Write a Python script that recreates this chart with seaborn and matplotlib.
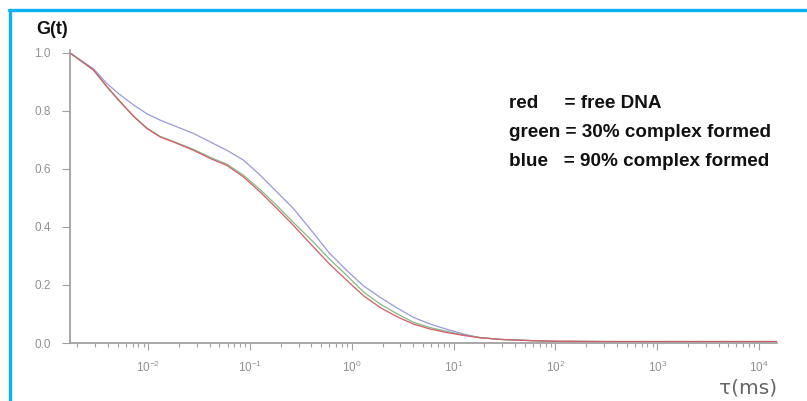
import numpy as np
import pandas as pd
import matplotlib
matplotlib.use("Agg")
import matplotlib.pyplot as plt
from matplotlib.lines import Line2D
from matplotlib.ticker import LogLocator, FixedLocator
import seaborn as sns

# ---- data ----
tau_ms = [0.0017, 0.0029, 0.0039, 0.0053, 0.0072, 0.0097, 0.0131, 0.0191, 0.0279,
          0.0406, 0.0593, 0.0863, 0.126, 0.184, 0.267, 0.421, 0.60, 0.896, 1.3,
          1.9, 2.8, 4.04, 5.9, 8.59, 12.5, 18.2, 30, 60, 100, 300, 1000, 3000,
          10000, 15000]
g_red = [1.0, 0.941, 0.885, 0.832, 0.780, 0.739, 0.710, 0.688, 0.664,
         0.636, 0.612, 0.572, 0.520, 0.463, 0.405, 0.330, 0.273, 0.215, 0.163,
         0.122, 0.090, 0.065, 0.048, 0.036, 0.026, 0.018, 0.012, 0.008, 0.006,
         0.005, 0.005, 0.005, 0.005, 0.005]
g_green = [1.0, 0.940, 0.883, 0.830, 0.782, 0.741, 0.712, 0.690, 0.667,
           0.640, 0.616, 0.578, 0.528, 0.473, 0.415, 0.347, 0.290, 0.232, 0.176,
           0.134, 0.100, 0.071, 0.053, 0.040, 0.028, 0.019, 0.012, 0.008, 0.006,
           0.005, 0.005, 0.005, 0.005, 0.005]
g_blue = [1.0, 0.945, 0.895, 0.855, 0.820, 0.790, 0.768, 0.745, 0.722,
          0.693, 0.664, 0.630, 0.578, 0.520, 0.463, 0.378, 0.310, 0.249, 0.197,
          0.157, 0.120, 0.088, 0.065, 0.047, 0.031, 0.018, 0.012, 0.008, 0.006,
          0.005, 0.005, 0.005, 0.005, 0.005]
series_names = ["red", "green", "blue"]
legend_lines = ["red     = free DNA", "green = 30% complex formed", "blue   = 90% complex formed"]
y_ticks = [0.0, 0.2, 0.4, 0.6, 0.8, 1.0]
x_major = [1e-2, 1e-1, 1e0, 1e1, 1e2, 1e3, 1e4]

df = pd.concat([
    pd.DataFrame({"tau": tau_ms, "G": g, "series": name})
    for name, g in zip(series_names, [g_red, g_green, g_blue])
], ignore_index=True)

sns.set_style("ticks")
plt.rcParams["font.family"] = ["Liberation Sans", "DejaVu Sans"]

fig = plt.figure(figsize=(8.07, 4.01), dpi=100)
ax = fig.add_axes([70 / 807, 1 - 343 / 401, 707 / 807, 293 / 401])

palette = {"red": "#d65a6a", "green": "#80bc80", "blue": "#9898dc"}
sns.lineplot(data=df, x="tau", y="G", hue="series", palette=palette,
             hue_order=["blue", "green", "red"], linewidth=0.9, legend=False, ax=ax,
             estimator=None, sort=True)

ax.set_xscale("log")
ax.set_xlim(0.0017, 15000)
ax.set_ylim(0.0, 1.01)
ax.set_yticks(y_ticks)
ax.set_yticklabels([f"{v:.1f}" for v in y_ticks])
ax.xaxis.set_major_locator(FixedLocator(x_major))
ax.xaxis.set_minor_locator(LogLocator(base=10, subs=np.arange(2, 10), numticks=20))
ax.set_xlabel("")
ax.set_ylabel("")

for s in ["top", "right"]:
    ax.spines[s].set_visible(False)
for s in ["left", "bottom"]:
    ax.spines[s].set_color("#a0a0a0")
    ax.spines[s].set_linewidth(1.3)

ax.tick_params(axis="y", colors="#a0a0a0", labelcolor="#909090", labelsize=8.5,
               length=6, width=0.8, pad=8)
ax.tick_params(axis="x", which="major", colors="#a0a0a0", labelcolor="#909090",
               labelsize=8.5, length=5, width=0.8, pad=7)
ax.tick_params(axis="x", which="minor", colors="#a0a0a0", length=3, width=0.8)

# labels
fig.text(36 / 807, 1 - 30 / 401, "G(t)", fontsize=13, fontweight="bold",
         color="#111111", va="center", ha="left")
fig.text(777 / 807, 1 - 388 / 401, "τ(ms)", fontsize=14.5, color="#666666",
         va="center", ha="right", family=["DejaVu Sans"])

for i, line in enumerate(legend_lines):
    fig.text(509 / 807, 1 - (103 + 29.5 * i) / 401, line, fontsize=13.6,
             fontweight="bold", color="#111111", va="center", ha="left")

# blue frame (top and left)
frame_color = "#0ab0f0"
fig.add_artist(Line2D([9 / 807, 1.0], [1 - 10 / 401, 1 - 10 / 401],
                      transform=fig.transFigure, color=frame_color, linewidth=2.4))
fig.add_artist(Line2D([9.5 / 807, 9.5 / 807], [0.0, 1 - 10 / 401],
                      transform=fig.transFigure, color=frame_color, linewidth=2.4))

fig.savefig("out.png", dpi=100, facecolor="white")
